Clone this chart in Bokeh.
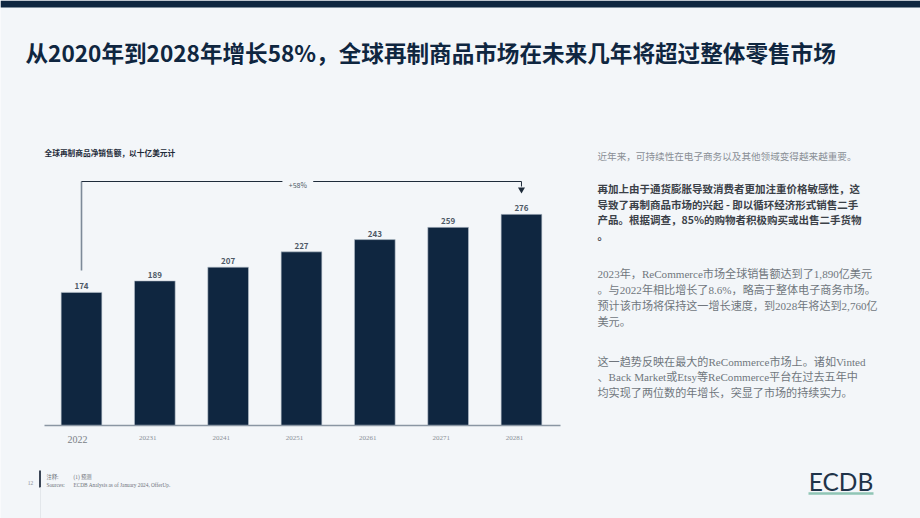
from bokeh.plotting import figure
from bokeh.models import Range1d
from bokeh.core.properties import value
from bokeh.embed import file_html
from bokeh.resources import INLINE

# ---------------- data ----------------
years = ["2022", "20231", "20241", "20251", "20261", "20271", "20281"]
sales = [174, 189, 207, 227, 243, 259, 276]
growth_label = "+58%"

title = "从2020年到2028年增长58%，全球再制商品市场在未来几年将超过整体零售市场"
subtitle = "全球再制商品净销售额，以十亿美元计"
para1 = ["近年来，可持续性在电子商务以及其他领域变得越来越重要。"]
para2 = ["再加上由于通货膨胀导致消费者更加注重价格敏感性，这",
         "导致了再制商品市场的兴起 - 即以循环经济形式销售二手",
         "产品。根据调查，85%的购物者积极购买或出售二手货物",
         "。"]
para3 = ["2023年，ReCommerce市场全球销售额达到了1,890亿美元",
         "。与2022年相比增长了8.6%，略高于整体电子商务市场。",
         "预计该市场将保持这一增长速度，到2028年将达到2,760亿",
         "美元。"]
para4 = ["这一趋势反映在最大的ReCommerce市场上。诸如Vinted",
         "、Back Market或Etsy等ReCommerce平台在过去五年中",
         "均实现了两位数的年增长，突显了市场的持续实力。"]
foot_labels = ["注释:", "Sources:"]
foot_texts = ["(1) 预测", "ECDB Analysis as of January 2024, OfferUp."]
page_no = "12"
logo = "ECDB"

# ---------------- styles ----------------
BG = "#f3f6f9"
NAVY = "#0f2640"
SANS = "Noto Sans CJK SC"
SERIF = "Liberation Serif, Noto Sans CJK SC"

W, H = 920, 518
p = figure(width=W, height=H, x_range=Range1d(0, W), y_range=Range1d(H, 0),
           x_axis_type=None, y_axis_type=None, toolbar_location=None,
           output_backend="svg", min_border=0)
p.background_fill_color = BG
p.border_fill_color = BG
p.outline_line_color = None
p.grid.visible = False

# scales for the bar chart (index -> page px, value -> page px)
px_per_cat = 73.33
first_center = 81.0
base_y = 425.0
px_per_unit = 0.765
p.extra_x_ranges = {"bx": Range1d(-first_center / px_per_cat, (W - first_center) / px_per_cat)}
p.extra_y_ranges = {"by": Range1d(-(H - base_y) / px_per_unit, base_y / px_per_unit)}

idx = list(range(len(years)))

# top band
p.quad(left=[0], right=[W], top=[0], bottom=[7], fill_color=NAVY, line_color=None)

# title
p.text(x=[25], y=[52], text=[title], text_font=value(SANS), text_font_size=value("22.6px"),
       text_font_style="bold", text_color="#0f2640", text_baseline="middle")
# subtitle
p.text(x=[44], y=[152], text=[subtitle], text_font=value(SANS), text_font_size=value("7.7px"),
       text_font_style="bold", text_color="#1d2a38", text_baseline="middle")

# bars
p.vbar(x=idx, top=sales, bottom=0, width=0.555, x_range_name="bx", y_range_name="by",
       fill_color=NAVY, line_color="#b9c3cd", line_width=0.6)
# value labels
p.text(x=idx, y=sales, text=[str(v) for v in sales], x_range_name="bx", y_range_name="by",
       text_font=value(SANS), text_font_size=value("8px"), text_font_style="bold",
       text_color="#4e5966", text_align="center", text_baseline="bottom", y_offset=-3)

# baseline
p.line(x=[44, 560], y=[base_y, base_y], line_color="#8a96a3", line_width=1.5)

# x labels
p.text(x=idx[:1], y=[439], text=years[:1], x_range_name="bx", text_font=value("Liberation Serif"),
       text_font_size=value("10px"), text_color="#7a7f86", text_align="center",
       text_baseline="middle", x_offset=-4)
p.text(x=idx[1:], y=[437] * (len(years) - 1), text=years[1:], x_range_name="bx",
       text_font=value("Liberation Serif"), text_font_size=value("7px"), text_color="#8a8f96",
       text_align="center", text_baseline="middle", x_offset=-7)

# growth bracket
last = idx[-1]
p.line(x=[0, 0], y=[270, 181], x_range_name="bx", line_color="#7d8a98", line_width=1.6)
p.multi_line(xs=[[0, 2.74], [3.16, last], [last, last]], ys=[[181, 181], [181, 181], [181, 186]],
             x_range_name="bx", line_color="#1e2b3a", line_width=1)
p.scatter(x=[last], y=[189], x_range_name="bx", marker="inverted_triangle", size=7,
          fill_color="#1e2b3a", line_color=None)
p.text(x=[2.95], y=[184], text=[growth_label], x_range_name="bx", text_font=value(SANS),
       text_font_size=value("7px"), text_color="#4e5966", text_align="center",
       text_baseline="middle")

# right column text
def para(lines, y0, step, font, size, color, style="normal"):
    p.text(x=[597] * len(lines), y=[y0 + i * step for i in range(len(lines))], text=lines,
           text_font=value(font), text_font_size=value(size), text_color=color,
           text_font_style=style, text_baseline="middle")

para(para1, 155, 16, SANS, "9.6px", "#8a8f96")
para(para2, 188, 15.7, SANS, "10.5px", "#3b4148", "bold")
para(para3, 273, 16, SERIF, "11.1px", "#70767d")
para(para4, 361, 15.5, SERIF, "11.1px", "#70767d")

# footer
p.text(x=[30], y=[482], text=[page_no], text_font=value("Liberation Serif"),
       text_font_size=value("5.5px"), text_color="#8a8f96", text_align="center",
       text_baseline="middle")
p.quad(left=[38.5], right=[40.5], top=[470], bottom=[487], fill_color="#3b4656", line_color=None)
p.line(x=[40, 40], y=[487, H], line_color="#e3e7eb", line_width=1)
p.text(x=[46, 46], y=[476, 484], text=foot_labels, text_font=value(SERIF),
       text_font_size=value("5.3px"), text_color="#6d737a", text_baseline="middle")
p.text(x=[73, 73], y=[476, 484], text=foot_texts, text_font=value(SERIF),
       text_font_size=value("5.3px"), text_color="#6d737a", text_baseline="middle")

# logo
p.text(x=[840.5], y=[481], text=[logo], text_font=value("Lato"), text_font_size=value("24.5px"),
       text_color="#1f3349", text_align="center", text_baseline="middle")
p.line(x=[808, 873], y=[493, 493], line_color="#8fc5b5", line_width=2.5)

open("out.html", "w").write(file_html(p, INLINE))
